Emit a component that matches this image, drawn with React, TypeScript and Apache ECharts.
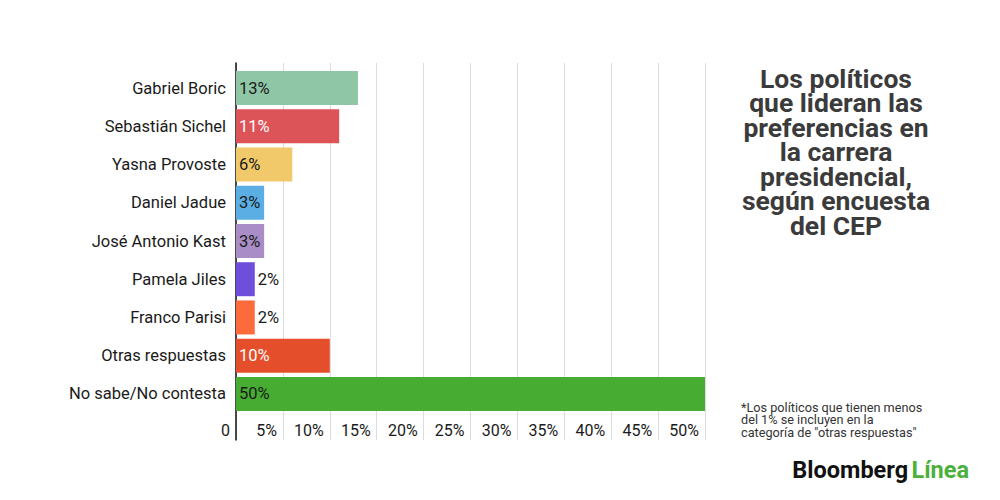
import React, { useEffect, useRef } from "react";
import * as echarts from "echarts";

const categories = [
  "Gabriel Boric",
  "Sebastián Sichel",
  "Yasna Provoste",
  "Daniel Jadue",
  "José Antonio Kast",
  "Pamela Jiles",
  "Franco Parisi",
  "Otras respuestas",
  "No sabe/No contesta",
];
const values = [13, 11, 6, 3, 3, 2, 2, 10, 50];
const barColors = [
  "#8ec6a6",
  "#dc5358",
  "#f1c96b",
  "#5aaee3",
  "#a88dc6",
  "#6d4fdc",
  "#fd6a3c",
  "#e44e2a",
  "#46ad32",
];
const labelColors = ["#1a1a1a", "#ffffff", "#1a1a1a", "#1a1a1a", "#1a1a1a", "#1a1a1a", "#1a1a1a", "#ffffff", "#1a1a1a"];
const xTicks = { min: 0, max: 50, interval: 5 };
const titleText = "Los políticos\nque lideran las\npreferencias en\nla carrera\npresidencial,\nsegún encuesta\ndel CEP";
const noteText = '*Los políticos que tienen menos\ndel 1% se incluyen en la\ncategoría de "otras respuestas"';

const FONT = "Roboto, 'Noto Sans', sans-serif";

export default function App() {
  const ref = useRef<HTMLDivElement>(null);
  useEffect(() => {
    document.body.style.margin = "0";
    if (!ref.current) return;
    const chart = echarts.init(ref.current, undefined, { renderer: "svg" });
    const data = values.map((v, i) => {
      const outside = v < 3;
      return {
        value: v,
        itemStyle: { color: barColors[i] },
        label: {
          position: outside ? "right" : "insideLeft",
          distance: 3,
          color: labelColors[i],
        },
      };
    });
    chart.setOption({
      animation: false,
      backgroundColor: "#ffffff",
      textStyle: { fontFamily: FONT },
      grid: [
        { left: 236, right: 295, top: 69, bottom: 87, containLabel: false },
        { left: 236, right: 295, top: 63, bottom: 60, containLabel: false },
      ],
      xAxis: [
        {
          type: "value",
          gridIndex: 0,
          min: xTicks.min,
          max: xTicks.max,
          interval: xTicks.interval,
          splitLine: { show: false },
          axisLine: { show: false },
          axisTick: { show: false },
          axisLabel: {
            show: true,
            margin: 9,
            align: "right",
            padding: [0, 6, 0, 0],
            fontSize: 16,
            color: "#1a1a1a",
            fontFamily: FONT,
            formatter: (v: number) => (v === 0 ? "0" : v + "%"),
          },
        },
        {
          type: "value",
          gridIndex: 1,
          min: xTicks.min,
          max: xTicks.max,
          interval: xTicks.interval,
          splitLine: { show: true, lineStyle: { color: "#dcdcdc", width: 1 } },
          axisLine: { show: false },
          axisTick: { show: false },
          axisLabel: { show: false },
        },
      ],
      yAxis: [
        {
          type: "category",
          gridIndex: 0,
          data: categories,
          inverse: true,
          axisLine: { show: false },
          axisTick: { show: false },
          axisLabel: { fontSize: 16.5, color: "#1a1a1a", margin: 10, fontFamily: FONT },
        },
        {
          type: "value",
          gridIndex: 1,
          min: 0,
          max: 1,
          splitLine: { show: false },
          axisLabel: { show: false },
          axisTick: { show: false },
          axisLine: { show: true, onZero: false, lineStyle: { color: "#111111", width: 1.5 } },
        },
      ],
      series: [
        {
          type: "bar",
          xAxisIndex: 0,
          yAxisIndex: 0,
          barWidth: 34,
          data,
          z: 3,
          label: {
            show: true,
            fontSize: 16.5,
            fontFamily: FONT,
            formatter: (p: any) => p.value + "%",
          },
        },
      ],
      graphic: [
        {
          type: "text",
          x: 836,
          y: 66,
          style: {
            text: titleText,
            font: `bold 26.5px ${FONT}`,
            lineHeight: 24.5,
            align: "center",
            verticalAlign: "top",
            fill: "#3b3b3b",
          },
        },
        {
          type: "text",
          x: 741,
          y: 401,
          style: {
            text: noteText,
            font: `12.7px ${FONT}`,
            lineHeight: 12.5,
            align: "left",
            verticalAlign: "top",
            fill: "#333333",
          },
        },
        {
          type: "text",
          x: 969,
          y: 470,
          style: {
            text: "{a|Bloomberg} {b|Línea}",
            align: "right",
            verticalAlign: "middle",
            rich: {
              a: { fontFamily: FONT, fontWeight: "bold", fontSize: 23.5, fill: "#111111", color: "#111111" },
              b: { fontFamily: FONT, fontWeight: "bold", fontSize: 23.5, fill: "#4cb03c", color: "#4cb03c" },
            },
          },
        },
      ],
    });
    return () => chart.dispose();
  }, []);
  return <div ref={ref} style={{ width: 1000, height: 500 }} />;
}
